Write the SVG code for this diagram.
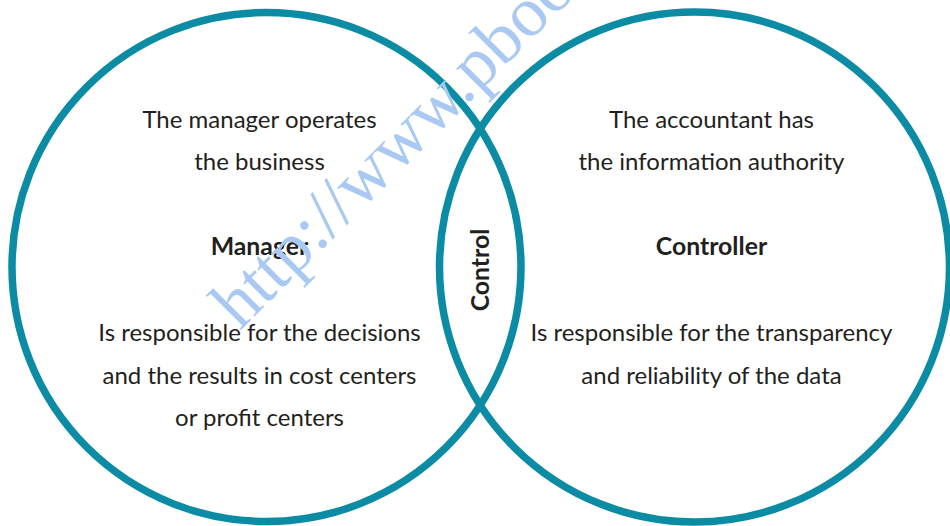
<svg xmlns="http://www.w3.org/2000/svg" width="950" height="526" viewBox="0 0 950 526">
<style>
.ring{fill:none;stroke:#0b8ca4;stroke-width:7.5}
.t{font-family:Lato,"Open Sans",sans-serif;font-size:24px;fill:#231f20;text-anchor:middle}
.b{font-weight:bold;font-size:24.8px}
.wm{font-family:"Liberation Serif","DejaVu Serif",serif;font-size:71px;fill:#a9c9f2}
</style>
<rect width="950" height="526" fill="#fff"/>
<g id="connectors"></g>
<g id="manager">
<circle class="ring" cx="266.5" cy="267" r="254.5"/>
<text class="t" x="259.5" y="128">The manager operates</text>
<text class="t" x="259.5" y="170">the business</text>
<text class="t b" x="259.5" y="255">Manager</text>
<text class="t" x="259.5" y="341">Is responsible for the decisions</text>
<text class="t" x="259.5" y="384">and the results in cost centers</text>
<text class="t" x="259.5" y="426">or profit centers</text>
</g>
<g id="controller">
<circle class="ring" cx="694.5" cy="267" r="255"/>
<text class="t" x="711.5" y="128">The accountant has</text>
<text class="t" x="711.5" y="170">the information authority</text>
<text class="t b" x="711.5" y="255">Controller</text>
<text class="t" x="711.5" y="341">Is responsible for the transparency</text>
<text class="t" x="711.5" y="384">and reliability of the data</text>
</g>
<g id="control">
<text class="t b" transform="translate(489,270) rotate(-90)" x="0" y="0">Control</text>
</g>
<text class="wm" transform="translate(240,331) rotate(-45)">http://www.pboo</text>
</svg>
